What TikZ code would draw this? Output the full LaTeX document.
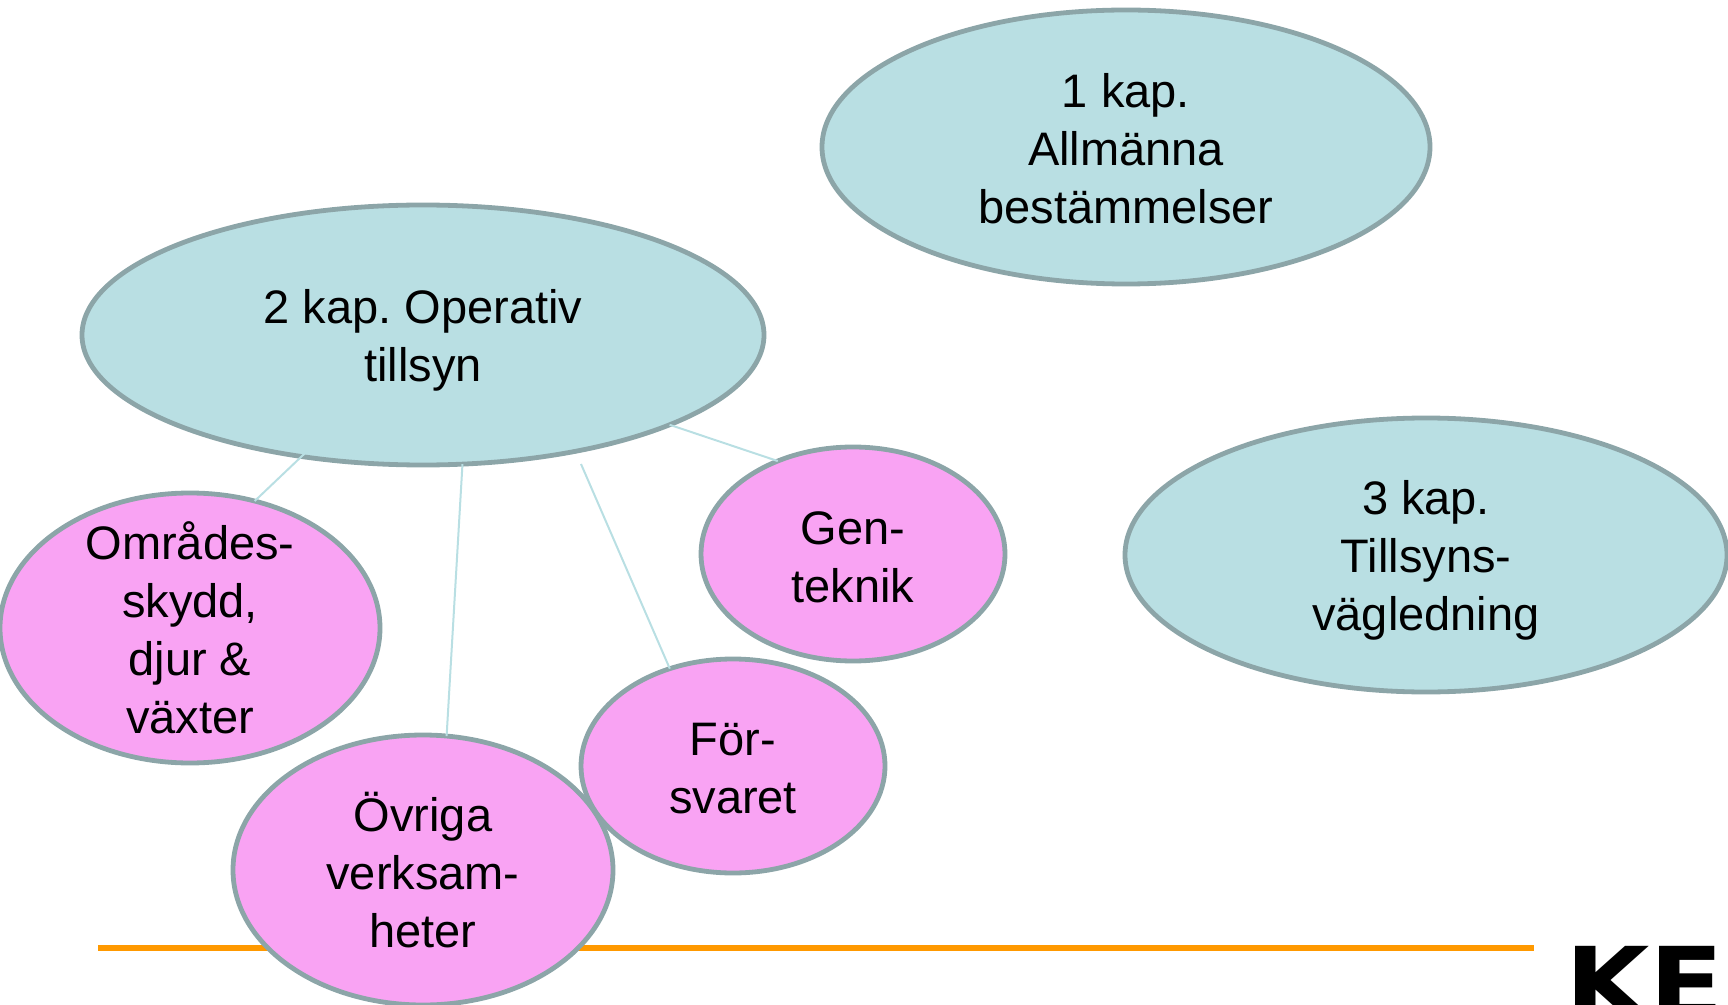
\documentclass[tikz,border=0pt]{standalone}
\usepackage{fontspec}
\setmainfont{Liberation Sans}
\newfontfamily\logofont{DejaVu Sans}
\usetikzlibrary{shapes.geometric}
\definecolor{bubblue}{HTML}{B9DFE3}
\definecolor{bubpink}{HTML}{F9A3F3}
\definecolor{rimgray}{HTML}{8CA5A8}
\definecolor{linkblue}{HTML}{B9DFE3}
\definecolor{rulebar}{HTML}{FF9900}
\tikzset{
  bub/.style={ellipse, draw=rimgray, line width=2.4pt, inner sep=0pt, outer sep=0pt},
  bluebub/.style={bub, fill=bubblue},
  pinkbub/.style={bub, fill=bubpink},
  txt/.style={align=center, inner sep=0pt, font=\fontsize{23.5}{29}\selectfont},
  link/.style={draw=linkblue, line width=1pt},
}
\frenchspacing
\begin{document}
\begin{tikzpicture}[x=0.5pt, y=-0.5pt]
\useasboundingbox (0,0) rectangle (1728,1005);
\begin{scope}
\clip (0,0) rectangle (1728,1005);
% orange rule
\coordinate (r1) at (98,948);
\coordinate (r2) at (1534,948);
\draw[rulebar, line width=3pt] (r1) -- (r2);
% logo
\node[anchor=base west, inner sep=0pt, xscale=1.1, transform shape, font=\logofont\fontsize{49.5}{49.5}\bfseries\selectfont] (logo) at (1565,1018) {KE};
% blue bubbles
\node[bluebub, minimum width=304pt, minimum height=137pt] (A) at (1126,147) {};
\node[txt] (At) at ([yshift=-1pt]A.center) {1 kap.\\Allmänna\\bestämmelser};
\node[bluebub, minimum width=341pt, minimum height=130pt] (B) at (423,335) {};
\node[txt] (Bt) at ([yshift=-2.5pt]B.center) {2 kap. Operativ\\tillsyn};
\node[bluebub, minimum width=301pt, minimum height=137pt] (C) at (1426,555) {};
\node[txt] (Ct) at ([yshift=-2.5pt]C.center) {3 kap.\\Tillsyns-\\vägledning};
% pink bubbles
\node[pinkbub, minimum width=152pt, minimum height=107pt] (G) at (853,554) {};
\node[txt] (Gt) at ([yshift=-1.5pt]G.center) {Gen-\\teknik};
\node[pinkbub, minimum width=152pt, minimum height=107pt] (F) at (733,766) {};
\node[txt] (Ft) at ([yshift=-1.5pt]F.center) {För-\\svaret};
\node[pinkbub, minimum width=190pt, minimum height=135pt] (O) at (190,628) {};
\node[txt] (Ot) at (O) {Områdes-\\skydd,\\djur \&\\växter};
\node[pinkbub, minimum width=190pt, minimum height=135pt] (V) at (423,870) {};
\node[txt] (Vt) at (V) {Övriga\\verksam-\\heter};
% connectors
\coordinate (fs) at (581,464);
\draw[link, shorten <=-16pt] (B.225) -- (O.63);
\draw[link] (B.-73.5) -- (V.80.2);
\draw[link] (fs) -- (F.123.5);
\draw[link] (B.-20.7) -- (G.129.1);
\end{scope}
\end{tikzpicture}
\end{document}
